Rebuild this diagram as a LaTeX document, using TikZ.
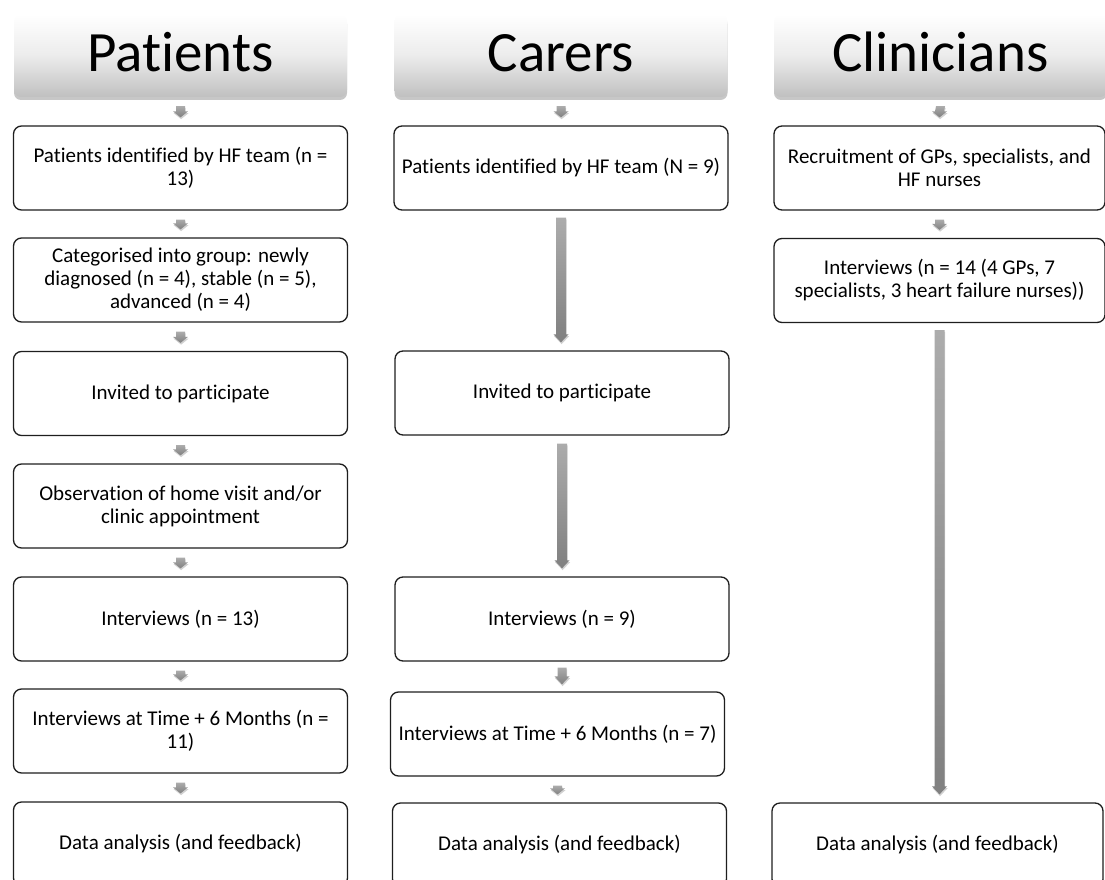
\documentclass[tikz,border=0pt]{standalone}
\usepackage{fontspec}
\setmainfont{Carlito}[Ligatures=CommonOff]
\usetikzlibrary{arrows.meta,shadows,calc}
\definecolor{arrtop}{RGB}{172,172,172}
\definecolor{arrbot}{RGB}{128,128,128}
\definecolor{hdrbot}{RGB}{192,192,192}
\definecolor{hdrmid}{RGB}{236,236,236}
\definecolor{boxline}{RGB}{30,30,30}
% shaded block arrow between two points: #1 start, #2 tip, #3 half shaft, #4 half head, #5 head length
\newcommand{\flowarrow}[5]{%
  \path[arrshade] ($#1+(-#3,0)$) -- ($#1+(#3,0)$) -- ($#2+(#3,-#5)$) -- ($#2+(#4,-#5)$)
    -- #2 -- ($#2+(-#4,-#5)$) -- ($#2+(-#3,-#5)$) -- cycle;}
\begin{document}
\begin{tikzpicture}[x=1pt,y=-1pt,
  hdr/.style={rectangle, rounded corners=7pt, minimum width=333pt, minimum height=83pt, inner sep=0pt,
    top color=white, bottom color=hdrbot, middle color=hdrmid,
    drop shadow={shadow xshift=0pt, shadow yshift=-3pt, opacity=0.22, fill=black},
    text height=37pt, text depth=4pt,
    font=\fontsize{57}{60}\selectfont},
  stepbox/.style={rectangle, rounded corners=8pt, draw=boxline, line width=1.3pt, fill=white,
    minimum width=334pt, minimum height=84pt, inner sep=0pt, align=center,
    font=\fontsize{21}{23}\selectfont},
  arrshade/.style={top color=arrtop, bottom color=arrbot,
    drop shadow={shadow xshift=0.6pt, shadow yshift=-1.8pt, opacity=0.18, fill=black}},
]
\useasboundingbox (0,0) rectangle (1105,880);
\clip (0,0) rectangle (1105,880);

% headers
\node[hdr] (hp) at (180.5,55.5) {Patients};
\node[hdr] (hc) at (561,55.5) {Carers};
\node[hdr] (hk) at (940.5,55.5) {Clinicians};

% patients
\node[stepbox] (p1) at (180.5,168) {Patients identified by HF team (n =\\13)};
\node[stepbox] (p2) at (180.5,280) {Categorised into group: newly\\diagnosed (n = 4), stable (n = 5),\\advanced (n = 4)};
\node[stepbox] (p3) at (180.5,393.5) {Invited to participate};
\node[stepbox] (p4) at (180.5,506) {Observation of home visit and/or\\clinic appointment};
\node[stepbox] (p5) at (180.5,619) {Interviews (n = 13)};
\node[stepbox] (p6) at (180.5,731) {Interviews at Time + 6 Months (n =\\11)};
\node[stepbox] (p7) at (180.5,844) {Data analysis (and feedback)};

% carers
\node[stepbox] (c1) at (561,168) {Patients identified by HF team (N = 9)};
\node[stepbox] (c2) at (562,393) {Invited to participate};
\node[stepbox] (c3) at (562,619) {Interviews (n = 9)};
\node[stepbox] (c4) at (557.5,734) {Interviews at Time + 6 Months (n = 7)};
\node[stepbox] (c5) at (559.5,845) {Data analysis (and feedback)};

% clinicians
\node[stepbox, minimum width=331pt] (k1) at (939.5,168) {Recruitment of GPs, specialists, and\\HF nurses};
\node[stepbox, minimum width=331pt] (k2) at (939.5,280.5) {Interviews (n = 14 (4 GPs, 7\\specialists, 3 heart failure nurses))};
\node[stepbox, minimum width=331pt] (k3) at (937.5,845) {Data analysis (and feedback)};

% patient arrows
\flowarrow{([yshift=-9pt]hp.south)}{([yshift=8pt]p1.north)}{4.5}{7.5}{6}
\flowarrow{([yshift=-9pt]p1.south)}{([yshift=8pt]p2.north)}{4.5}{7.5}{6}
\flowarrow{([yshift=-9pt]p2.south)}{([yshift=8pt]p3.north)}{4.5}{7.5}{6}
\flowarrow{([yshift=-9pt]p3.south)}{([yshift=8pt]p4.north)}{4.5}{7.5}{6}
\flowarrow{([yshift=-9pt]p4.south)}{([yshift=8pt]p5.north)}{4.5}{7.5}{6}
\flowarrow{([yshift=-9pt]p5.south)}{([yshift=8pt]p6.north)}{4.5}{7.5}{6}
\flowarrow{([yshift=-9pt]p6.south)}{([yshift=8pt]p7.north)}{4.5}{7.5}{6}

% carer arrows
\flowarrow{([yshift=-9pt]hc.south)}{([yshift=8pt]c1.north)}{4.5}{7.5}{6}
\flowarrow{([yshift=-7pt]c1.south)}{([yshift=8pt]c1.south |- c2.north)}{5}{7.5}{8}
\flowarrow{([yshift=-8pt]c2.south)}{([yshift=8pt]c2.south |- c3.north)}{5}{7.5}{8}
\flowarrow{([yshift=-6pt]c3.south)}{([yshift=7pt]c3.south |- c4.north)}{4.5}{7.5}{8}
\flowarrow{([yshift=-9pt]c4.south)}{([yshift=8pt]c4.south |- c5.north)}{4.5}{7.5}{6}

% clinician arrows
\flowarrow{([yshift=-9pt]hk.south)}{([yshift=8pt]k1.north)}{4.5}{7.5}{6}
\flowarrow{([yshift=-9pt]k1.south)}{([yshift=8pt]k2.north)}{4.5}{7.5}{6}
\flowarrow{([yshift=-7pt]k2.south)}{([yshift=8pt]k2.south |- k3.north)}{5}{7.5}{8}
\end{tikzpicture}
\end{document}
